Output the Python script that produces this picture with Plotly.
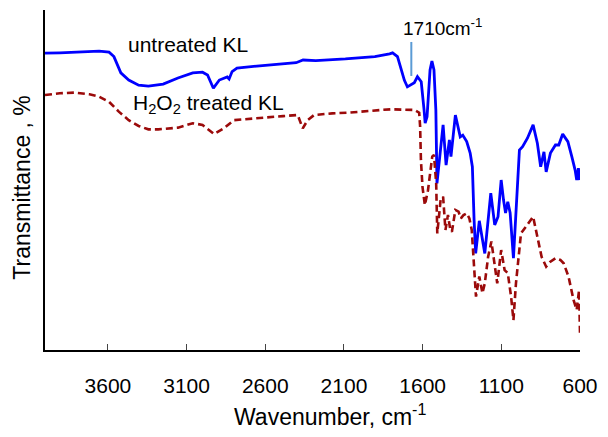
import plotly.graph_objects as go

# Wavenumber (cm-1) and transmittance (arbitrary %, offset curves)
untreated_wn = [4000, 3906, 3656, 3593, 3562, 3518, 3468, 3405, 3343, 3249,
                3155, 3061, 2999, 2967, 2930, 2892, 2842, 2830, 2811, 2780,
                2654, 2404, 2360, 2279, 2091, 1904, 1810, 1791, 1760, 1728,
                1716, 1697, 1653, 1633, 1609, 1591, 1584, 1572, 1553, 1541,
                1528, 1516, 1509, 1470, 1451, 1430, 1420, 1392, 1361, 1345,
                1320, 1298, 1284, 1273, 1263, 1240, 1205, 1167, 1142, 1121,
                1101, 1086, 1073, 1059, 1044, 1023, 1007, 985, 965, 934,
                898, 871, 850, 829, 815, 788, 756, 735, 710, 677,
                652, 631, 621, 610, 603, 600]
untreated_T = [87.3, 87.4, 87.9, 87.6, 86.3, 81.5, 79.4, 77.9, 77.6, 78.2,
               80, 81.5, 81.7, 80.9, 77, 79.4, 80.3, 79.7, 81.9, 82.9,
               83.5, 84.5, 85.3, 85.1, 85.6, 86.3, 87.1, 87.4, 86.3, 81.4,
               79.3, 77.4, 78.6, 80.4, 78.9, 70.6, 66.7, 68.6, 82.4, 85,
               82.4, 70.6, 49, 66.2, 54.4, 61.8, 56.9, 69.1, 62.7, 63.2,
               61.3, 57.9, 53.9, 38.2, 28.4, 38, 28.4, 46.1, 36.8, 39.2,
               50, 44.1, 40.3, 43.6, 40.3, 27, 41.2, 58.8, 59.8, 62.3,
               66.2, 60.8, 53.9, 58.3, 52.4, 57.9, 60.3, 60.3, 63.5, 61.3,
               56.9, 52.9, 50, 53.5, 50, 52.9]

treated_wn = [4000, 3906, 3812, 3718, 3656, 3593, 3531, 3468, 3405, 3343,
              3280, 3155, 3061, 2999, 2925, 2863, 2800, 2696, 2592, 2487,
              2394, 2362, 2331, 2290, 2175, 2071, 1966, 1862, 1799, 1653,
              1622, 1616, 1611, 1601, 1586, 1566, 1539, 1528, 1514, 1507,
              1486, 1470, 1455, 1439, 1424, 1414, 1392, 1372, 1357, 1340,
              1320, 1303, 1288, 1273, 1261, 1240, 1220, 1205, 1184, 1163,
              1142, 1126, 1101, 1079, 1059, 1038, 1023, 1007, 975, 944,
              898, 871, 844, 815, 788, 756, 725, 704, 673, 641,
              621, 606, 602, 600]
treated_T = [75, 75.5, 75.7, 75.2, 74.5, 73, 70.1, 67.6, 65.9, 64.9,
             64.9, 65.4, 66.7, 66.2, 63.5, 65.2, 67.6, 68.1, 68.4, 68.8,
             69.1, 65.2, 67.6, 69.1, 69.6, 69.8, 70.1, 70.6, 70.8, 70.6,
             69.8, 65.7, 55.9, 48, 42.6, 47, 56.9, 57.4, 49, 34.3,
             44.1, 45.1, 35.3, 39.7, 35.3, 34.8, 41.2, 40.7, 38.7, 39.7,
             40.2, 38.7, 35.3, 24.5, 15.7, 21.6, 16.7, 19.6, 27.4, 31.9,
             25.5, 19.6, 29.4, 23.5, 22.6, 15.7, 8.8, 19.6, 34.3, 36.3,
             39.2, 33.3, 27.4, 24.5, 26, 27, 26.5, 25.5, 21.6, 14.7,
             11.8, 17.6, 11.8, 4.9]

tick_vals = [3600, 3100, 2600, 2100, 1600, 1100, 600]
tick_text = ["3600", "3100", "2600", "2100", "1600", "1100", "600"]

marker_wn = 1672        # position of the 1710 cm-1 marker line
marker_T = (80.6, 90.6)

FONT = "Arial, Liberation Sans, sans-serif"

fig = go.Figure()
fig.add_trace(go.Scatter(x=untreated_wn, y=untreated_T, mode="lines",
                         line=dict(color="#0000FF", width=2.8),
                         name="untreated KL", showlegend=False))
fig.add_trace(go.Scatter(x=treated_wn, y=treated_T, mode="lines",
                         line=dict(color="#9B0A0A", width=2.6, dash="7px,4px"),
                         name="H2O2 treated KL", showlegend=False))

fig.add_shape(type="line", x0=marker_wn, x1=marker_wn, y0=marker_T[0], y1=marker_T[1],
              xref="x", yref="y", line=dict(color="#5B9BD5", width=2))

fig.add_annotation(x=1475, y=95, xref="x", yref="y", text="1710cm<sup>-1</sup>",
                   showarrow=False, font=dict(family=FONT, size=19, color="#000"),
                   xanchor="center", yanchor="middle")
fig.add_annotation(x=3487, y=89.8, xref="x", yref="y", text="untreated KL",
                   showarrow=False, font=dict(family=FONT, size=21, color="#000"),
                   xanchor="left", yanchor="middle")
fig.add_annotation(x=3456, y=72.4, xref="x", yref="y",
                   text="H<sub>2</sub>O<sub>2</sub> treated KL",
                   showarrow=False, font=dict(family=FONT, size=21, color="#000"),
                   xanchor="left", yanchor="middle")
fig.add_annotation(x=-0.042, y=0.476, xref="paper", yref="paper",
                   text="Transmittance , %", textangle=-90, showarrow=False,
                   font=dict(family=FONT, size=23, color="#000"),
                   xanchor="center", yanchor="middle")
fig.add_annotation(x=0.533, y=-0.19, xref="paper", yref="paper",
                   text="Wavenumber, cm<sup>-1</sup>", showarrow=False,
                   font=dict(family=FONT, size=23, color="#000"),
                   xanchor="center", yanchor="middle")

fig.update_layout(
    width=608, height=437,
    margin=dict(l=45, r=19, t=10, b=87),
    paper_bgcolor="white", plot_bgcolor="white",
    font=dict(family=FONT, size=21, color="#000"),
    xaxis=dict(range=[4000, 600], tickvals=tick_vals, ticktext=tick_text,
               ticks="inside", ticklen=6, tickwidth=1, tickcolor="#444",
               showline=True, linecolor="#000", linewidth=1.5,
               showgrid=False, zeroline=False, ticklabelstandoff=16,
               tickfont=dict(family=FONT, size=21, color="#000")),
    yaxis=dict(range=[0, 100], showticklabels=False, ticks="",
               showline=True, linecolor="#000", linewidth=1.5,
               showgrid=False, zeroline=False),
)

fig.write_html("out.html")
